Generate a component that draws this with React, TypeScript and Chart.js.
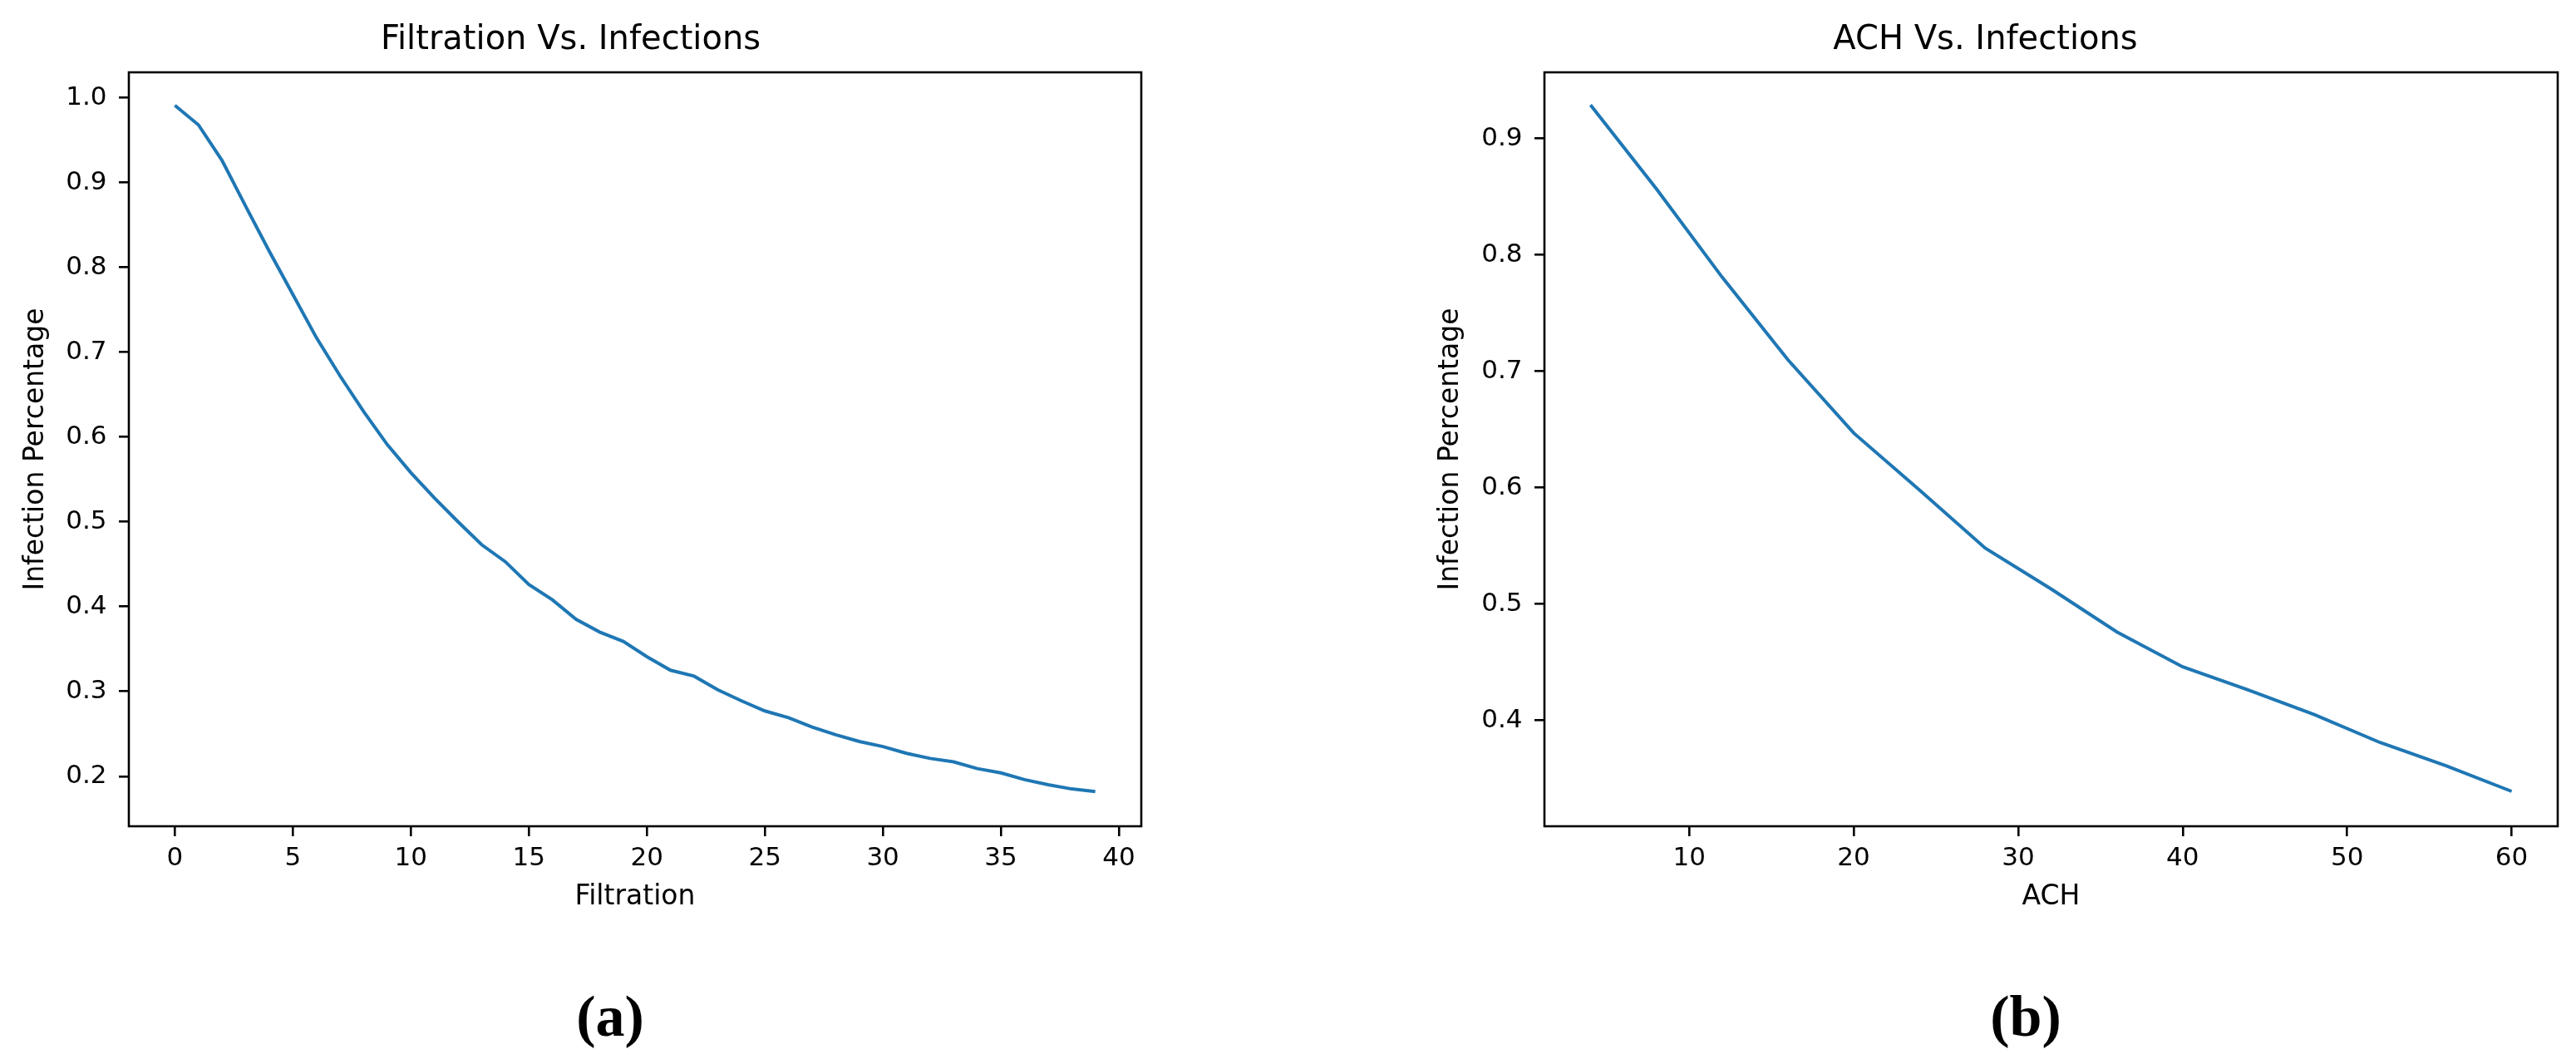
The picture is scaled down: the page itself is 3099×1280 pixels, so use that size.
import React, { useEffect, useRef } from "react";
import { Chart, registerables } from "chart.js";

Chart.register(...registerables);

// ---------- Data ----------
const filtrationX = [
  0, 1, 2, 3, 4, 5, 6, 7, 8, 9, 10, 11, 12, 13, 14, 15, 16, 17, 18, 19,
  20, 21, 22, 23, 24, 25, 26, 27, 28, 29, 30, 31, 32, 33, 34, 35, 36, 37, 38, 39,
];
const filtrationInfection = [
  0.991, 0.968, 0.926, 0.872, 0.819, 0.768, 0.717, 0.672, 0.63, 0.591,
  0.558, 0.528, 0.5, 0.473, 0.453, 0.426, 0.408, 0.385, 0.37, 0.359,
  0.341, 0.325, 0.318, 0.302, 0.289, 0.277, 0.269, 0.258, 0.249, 0.241,
  0.235, 0.227, 0.221, 0.217, 0.209, 0.204, 0.196, 0.19, 0.185, 0.182,
];
const filtrationXTicks = [0, 5, 10, 15, 20, 25, 30, 35, 40];
const filtrationYTicks = [0.2, 0.3, 0.4, 0.5, 0.6, 0.7, 0.8, 0.9, 1.0];

const achX = [4, 8, 12, 16, 20, 24, 28, 32, 36, 40, 44, 48, 52, 56, 60];
const achInfection = [
  0.929, 0.857, 0.781, 0.71, 0.647, 0.598, 0.548, 0.513, 0.476, 0.446,
  0.426, 0.405, 0.381, 0.361, 0.339,
];
const achXTicks = [10, 20, 30, 40, 50, 60];
const achYTicks = [0.4, 0.5, 0.6, 0.7, 0.8, 0.9];

const FONT = "'DejaVu Sans', 'Liberation Sans', sans-serif";
const LINE_COLOR = "#1f77b4";

const framePlugin = {
  id: "frame",
  afterDraw(chart: any) {
    const { ctx, chartArea } = chart;
    const { left, top, right, bottom } = chartArea;
    ctx.save();
    ctx.strokeStyle = "#000";
    ctx.lineWidth = 2.6;
    ctx.strokeRect(left, top, right - left, bottom - top);
    ctx.restore();
  },
};

type Panel = {
  title: string;
  xTitle: string;
  xs: number[];
  ys: number[];
  xTicks: number[];
  yTicks: number[];
  xMin: number;
  xMax: number;
  yMin: number;
  yMax: number;
  yWidth: number;
  padRight: number;
  yTitlePad: number;
};

function makeConfig(p: Panel): any {
  return {
    type: "line",
    data: {
      datasets: [
        {
          data: p.xs.map((x, i) => ({ x, y: p.ys[i] })),
          borderColor: LINE_COLOR,
          backgroundColor: LINE_COLOR,
          borderWidth: 4,
          pointRadius: 0,
          pointHoverRadius: 0,
          fill: false,
          tension: 0,
        },
      ],
    },
    options: {
      responsive: false,
      animation: false,
      devicePixelRatio: 1,
      layout: { padding: { left: 0, top: 0, right: p.padRight, bottom: 0 } },
      plugins: {
        legend: { display: false },
        tooltip: { enabled: false },
        title: {
          display: true,
          text: p.title,
          color: "#000",
          font: { family: FONT, size: 40, weight: "normal" },
          padding: { top: 25, bottom: 14 },
        },
      },
      scales: {
        x: {
          type: "linear",
          min: p.xMin,
          max: p.xMax,
          afterBuildTicks: (s: any) => {
            s.ticks = p.xTicks.map((v) => ({ value: v }));
          },
          afterFit: (s: any) => {
            s.height = 110;
          },
          grid: {
            display: true,
            drawOnChartArea: false,
            drawTicks: true,
            tickLength: 12,
            color: "#000",
            lineWidth: 2.6,
          },
          border: { display: false },
          ticks: {
            color: "#000",
            font: { family: FONT, size: 31 },
            padding: 8,
            maxRotation: 0,
            autoSkip: false,
            callback: (v: any) => String(v),
          },
          title: {
            display: true,
            text: p.xTitle,
            color: "#000",
            font: { family: FONT, size: 33 },
            padding: { top: 0, bottom: 5 },
          },
        },
        y: {
          type: "linear",
          min: p.yMin,
          max: p.yMax,
          afterBuildTicks: (s: any) => {
            s.ticks = p.yTicks.map((v) => ({ value: v }));
          },
          afterFit: (s: any) => {
            s.width = p.yWidth;
          },
          grid: {
            display: true,
            drawOnChartArea: false,
            drawTicks: true,
            tickLength: 12,
            color: "#000",
            lineWidth: 2.6,
          },
          border: { display: false },
          ticks: {
            color: "#000",
            font: { family: FONT, size: 31 },
            padding: 14.5,
            autoSkip: false,
            callback: (v: any) => Number(v).toFixed(1),
          },
          title: {
            display: true,
            text: "Infection Percentage",
            color: "#000",
            font: { family: FONT, size: 33 },
            padding: { top: p.yTitlePad, bottom: 0 },
          },
        },
      },
    },
    plugins: [framePlugin],
  };
}

function ChartPanel(props: { panel: Panel; left: number; width: number; height: number }) {
  const ref = useRef<HTMLCanvasElement | null>(null);
  useEffect(() => {
    if (!ref.current) return;
    const chart = new Chart(ref.current, makeConfig(props.panel));
    return () => chart.destroy();
  }, []);
  return (
    <canvas
      ref={ref}
      width={props.width}
      height={props.height}
      style={{
        position: "absolute",
        left: props.left,
        top: 0,
        width: props.width,
        height: props.height,
      }}
    />
  );
}

const filtrationPanel: Panel = {
  title: "Filtration Vs. Infections",
  xTitle: "Filtration",
  xs: filtrationX,
  ys: filtrationInfection,
  xTicks: filtrationXTicks,
  yTicks: filtrationYTicks,
  xMin: -1.95,
  xMax: 40.95,
  yMin: 0.141,
  yMax: 1.03,
  yWidth: 155,
  padRight: 27,
  yTitlePad: 24,
};

const achPanel: Panel = {
  title: "ACH Vs. Infections",
  xTitle: "ACH",
  xs: achX,
  ys: achInfection,
  xTicks: achXTicks,
  yTicks: achYTicks,
  xMin: 1.2,
  xMax: 62.8,
  yMin: 0.309,
  yMax: 0.957,
  yWidth: 158,
  padRight: 22,
  yTitlePad: 26,
};

const captionStyle = (center: number): React.CSSProperties => ({
  position: "absolute",
  left: center - 100,
  top: 1188,
  width: 200,
  textAlign: "center",
  fontFamily: "'Liberation Serif', 'DejaVu Serif', serif",
  fontWeight: "bold",
  fontSize: 70,
  lineHeight: "70px",
  color: "#000",
});

export default function App() {
  return (
    <div
      style={{
        position: "absolute",
        left: 0,
        top: 0,
        width: 3099,
        height: 1280,
        background: "#fff",
        overflow: "hidden",
      }}
    >
      <ChartPanel panel={filtrationPanel} left={0} width={1400} height={1104} />
      <ChartPanel panel={achPanel} left={1700} width={1399} height={1104} />
      <div style={captionStyle(734)}>(a)</div>
      <div style={captionStyle(2437)}>(b)</div>
    </div>
  );
}
